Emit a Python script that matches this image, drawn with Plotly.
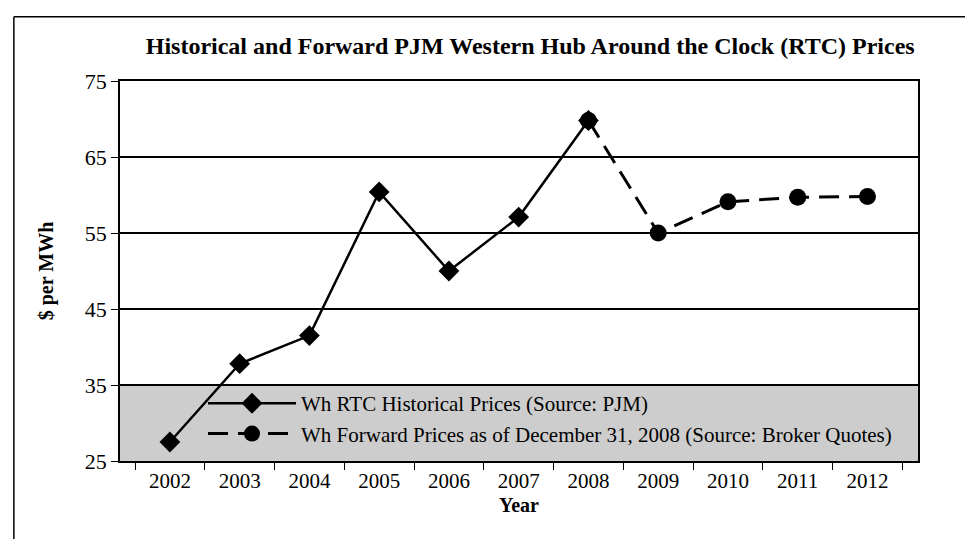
import plotly.graph_objects as go

years = ["2002", "2003", "2004", "2005", "2006", "2007", "2008", "2009", "2010", "2011", "2012"]
hist_years = ["2002", "2003", "2004", "2005", "2006", "2007", "2008"]
hist_prices = [27.5, 37.8, 41.5, 60.4, 50.0, 57.1, 69.8]
fwd_years = ["2008", "2009", "2010", "2011", "2012"]
fwd_prices = [69.8, 55.0, 59.1, 59.7, 59.8]
y_ticks = [25, 35, 45, 55, 65, 75]

FONT = "Liberation Serif"

fig = go.Figure()
fig.add_trace(go.Scatter(
    x=hist_years, y=hist_prices, mode="lines+markers",
    name="Wh RTC Historical Prices (Source: PJM)",
    line=dict(color="black", width=2.5),
    marker=dict(symbol="diamond", size=16, color="black"),
))
fig.add_trace(go.Scatter(
    x=fwd_years, y=fwd_prices, mode="lines+markers",
    name="Wh Forward Prices as of December 31, 2008 (Source: Broker Quotes)",
    line=dict(color="black", width=3, dash="20px,10px"),
    marker=dict(symbol="circle", size=17, color="black"),
))

# shaded bottom band
fig.add_shape(type="rect", xref="paper", yref="y", x0=0, x1=1, y0=25, y1=35,
              fillcolor="#cdcdcd", line=dict(width=0), layer="below")
# outer frame lines (scan border)
fig.add_shape(type="line", xref="paper", yref="paper", x0=-0.133, x1=-0.133, y0=1.169, y1=-0.25,
              line=dict(color="black", width=1.5))
fig.add_shape(type="line", xref="paper", yref="paper", x0=-0.133, x1=1.1, y0=1.169, y1=1.169,
              line=dict(color="black", width=1.5))

fig.update_layout(
    width=973, height=539,
    margin=dict(l=112, r=63, t=73, b=86),
    paper_bgcolor="white", plot_bgcolor="white",
    font=dict(family=FONT, color="black", size=21),
    title=dict(text="<b>Historical and Forward PJM Western Hub Around the Clock (RTC) Prices</b>",
               x=0.514, xref="paper", xanchor="center", y=0.931, yanchor="middle",
               font=dict(family=FONT, size=24, color="black")),
    showlegend=True,
    legend=dict(x=0.104, y=0.205, xanchor="left", yanchor="top",
                bgcolor="rgba(0,0,0,0)", font=dict(family=FONT, size=21, color="black"),
                itemwidth=88, tracegroupgap=0),
    xaxis=dict(type="category", categoryorder="array", categoryarray=years,
               tickson="boundaries", ticks="outside", ticklen=7, tickcolor="black",
               showline=True, linecolor="black", linewidth=1.5, mirror=True,
               showgrid=False, tickfont=dict(family=FONT, size=21),
               title=dict(text="<b>Year</b>", font=dict(family=FONT, size=20), standoff=6)),
    yaxis=dict(range=[25, 75], tickvals=y_ticks, ticks="outside", ticklen=7, tickcolor="black",
               showline=True, linecolor="black", linewidth=1.5, mirror=True,
               showgrid=True, gridcolor="black", gridwidth=1.5, zeroline=False,
               tickfont=dict(family=FONT, size=22),
               title=dict(text="<b>$ per MWh</b>", font=dict(family=FONT, size=20), standoff=26)),
)

fig.write_html("out.html")
